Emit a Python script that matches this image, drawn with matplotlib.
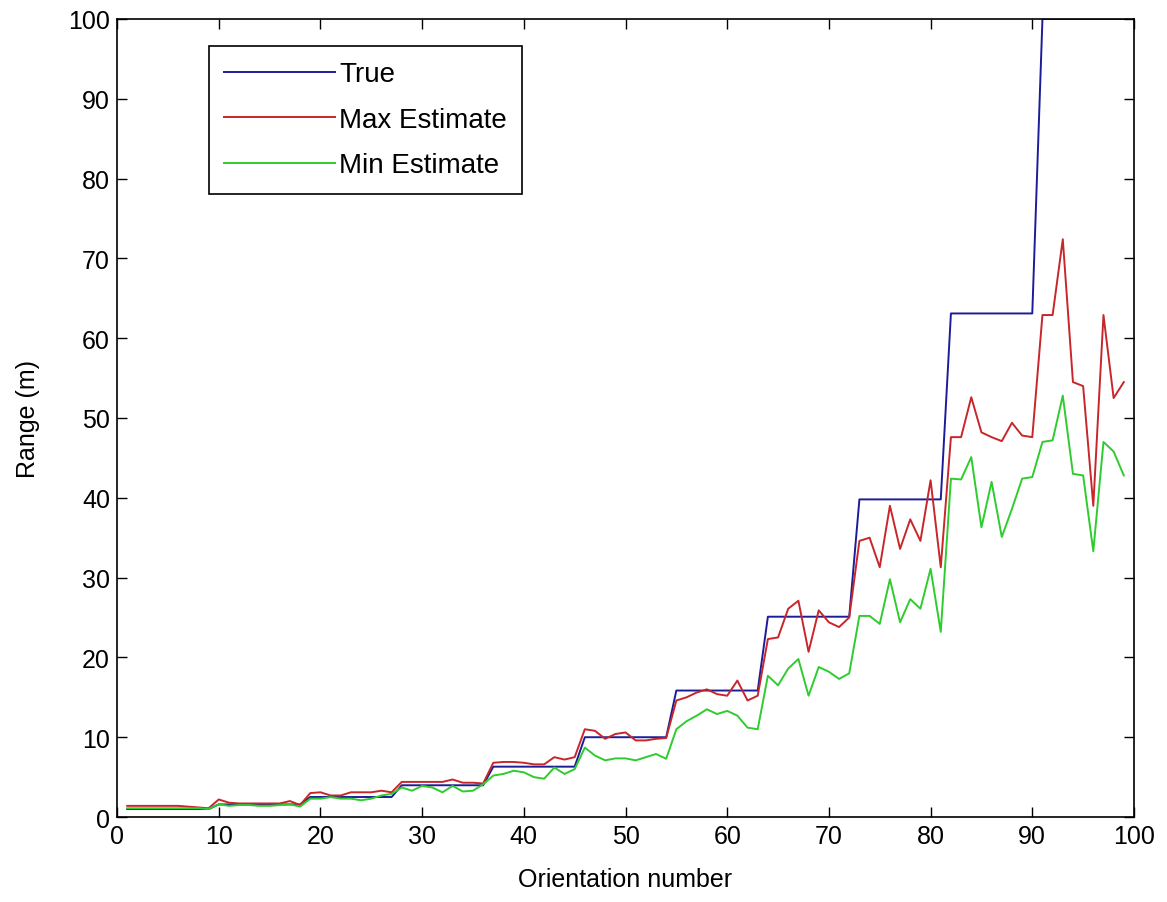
import matplotlib
matplotlib.use("Agg")
import matplotlib.pyplot as plt

plt.rcParams['font.family'] = ['Liberation Sans', 'DejaVu Sans']

# orientation numbers 1..99
orient = list(range(1, 100))

true_range = ([1.0] * 9 + [1.58] * 9 + [2.51] * 9 + [3.98] * 9 + [6.31] * 9 +
              [10.0] * 9 + [15.85] * 9 + [25.1] * 9 + [39.8] * 9 + [63.1] * 9 +
              [100.0] * 9)

max_est = [1.4, 1.4, 1.4, 1.4, 1.4, 1.4, 1.3, 1.2, 1.1,
           2.2, 1.8, 1.7, 1.7, 1.7, 1.7, 1.7, 2.0, 1.5,
           3.0, 3.1, 2.7, 2.7, 3.1, 3.1, 3.1, 3.3, 3.1,
           4.4, 4.4, 4.4, 4.4, 4.4, 4.7, 4.3, 4.3, 4.2,
           6.8, 6.9, 6.9, 6.8, 6.6, 6.6, 7.5, 7.2, 7.5,
           11.0, 10.8, 9.8, 10.4, 10.6, 9.6, 9.6, 9.8, 9.9,
           14.6, 15.0, 15.6, 16.0, 15.4, 15.2, 17.1, 14.6, 15.2,
           22.3, 22.5, 26.1, 27.1, 20.7, 25.9, 24.4, 23.8, 25.0,
           34.6, 35.0, 31.3, 39.0, 33.6, 37.3, 34.6, 42.2, 31.3,
           47.6, 47.6, 52.6, 48.2, 47.6, 47.1, 49.4, 47.8, 47.6,
           62.9, 62.9, 72.4, 54.5, 54.0, 39.0, 62.9, 52.5, 54.5]

min_est = [1.1, 1.1, 1.1, 1.1, 1.1, 1.1, 1.1, 1.1, 1.0,
           1.6, 1.4, 1.5, 1.5, 1.4, 1.4, 1.5, 1.6, 1.3,
           2.3, 2.3, 2.5, 2.3, 2.3, 2.1, 2.3, 2.7, 2.9,
           3.7, 3.3, 3.9, 3.7, 3.1, 3.9, 3.2, 3.3, 4.1,
           5.2, 5.4, 5.8, 5.6, 5.0, 4.8, 6.2, 5.4, 6.0,
           8.7, 7.7, 7.1, 7.35, 7.35, 7.1, 7.5, 7.9, 7.3,
           11.0, 12.0, 12.7, 13.5, 12.9, 13.3, 12.7, 11.2, 11.0,
           17.7, 16.5, 18.6, 19.8, 15.2, 18.8, 18.2, 17.3, 18.0,
           25.2, 25.2, 24.2, 29.8, 24.4, 27.3, 26.1, 31.1, 23.2,
           42.4, 42.3, 45.1, 36.3, 42.0, 35.1, 38.6, 42.4, 42.6,
           47.0, 47.2, 52.8, 43.0, 42.8, 33.3, 47.0, 45.8, 42.8]

fig = plt.figure(figsize=(11.67, 9.03), dpi=100)
ax = fig.add_axes([0.1003, 0.0941, 0.8714, 0.8838])

ax.plot(orient, true_range, color='#1c1c99', lw=1.4, label='True')
ax.plot(orient, max_est, color='#c8262a', lw=1.4, label='Max Estimate')
ax.plot(orient, min_est, color='#2ecc2e', lw=1.4, label='Min Estimate')

ax.set_xlim(0, 100)
ax.set_ylim(0, 100)
ax.set_xticks(range(0, 101, 10))
ax.set_yticks(range(0, 101, 10))
ax.tick_params(direction='in', top=True, right=True, length=7, width=1,
               labelsize=18, pad=5)
for s in ax.spines.values():
    s.set_linewidth(1.2)

ax.set_xlabel('Orientation number', fontsize=18, labelpad=14)
ax.set_ylabel('Range (m)', fontsize=18, labelpad=20)

leg = ax.legend(loc='upper left', bbox_to_anchor=(0.09, 0.966), borderaxespad=0,
                fontsize=20, handlelength=4.0, handletextpad=0.15,
                labelspacing=0.7, fancybox=False, framealpha=1,
                edgecolor='black', borderpad=0.55)
leg.get_frame().set_linewidth(1.2)

fig.savefig('out.png', dpi=100)
